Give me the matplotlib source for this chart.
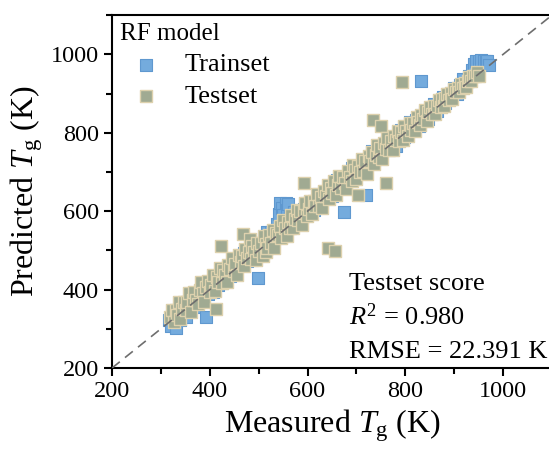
import matplotlib
matplotlib.use("Agg")
import matplotlib.pyplot as plt
from matplotlib.ticker import MultipleLocator

plt.rcParams['font.family'] = 'Liberation Serif'
plt.rcParams['mathtext.fontset'] = 'custom'
plt.rcParams['mathtext.rm'] = 'Liberation Serif'
plt.rcParams['mathtext.it'] = 'Liberation Serif:italic'

# measured vs predicted Tg (K)
train_x = [316, 320, 324, 328, 331, 335, 339, 343, 347, 352, 356, 360, 365, 369, 374,
           378, 383, 388, 393, 396, 401, 406, 411, 416, 421, 426, 431, 436, 441, 446,
           451, 456, 461, 466, 471, 476, 481, 486, 490, 494, 499, 502, 506, 510, 514,
           518, 522, 526, 530, 534, 538, 541, 544, 547, 550, 553, 556, 558, 561, 565,
           569, 573, 578, 583, 588, 593, 598, 603, 608, 613, 619, 624, 629, 634, 640,
           645, 650, 656, 661, 667, 672, 675, 678, 684, 690, 696, 702, 708, 714, 720,
           720, 726, 732, 738, 744, 750, 756, 762, 768, 774, 780, 786, 792, 798, 804,
           810, 816, 822, 828, 833, 834, 840, 846, 852, 858, 864, 870, 876, 882, 888,
           894, 900, 906, 912, 918, 924, 930, 936, 940, 945, 950, 955, 960, 964, 968,
           972]
train_y = [322, 308, 338, 322, 303, 339, 323, 353, 338, 330, 358, 346, 373, 363, 356,
           382, 373, 397, 331, 388, 407, 394, 421, 411, 435, 417, 436, 454, 434, 458,
           477, 460, 481, 474, 493, 472, 495, 476, 508, 496, 429, 514, 500, 530, 520,
           546, 532, 548, 526, 550, 568, 593, 620, 609, 590, 577, 622, 602, 619, 585,
           577, 599, 580, 601, 582, 605, 622, 600, 622, 603, 627, 644, 621, 645, 636,
           661, 638, 662, 679, 661, 682, 598, 664, 690, 710, 688, 714, 704, 730, 642,
           710, 734, 754, 732, 756, 738, 762, 780, 760, 784, 766, 790, 808, 788, 810,
           828, 808, 832, 816, 932, 838, 854, 836, 858, 874, 856, 878, 892, 876, 898,
           898, 914, 900, 922, 936, 928, 946, 960, 976, 983, 982, 985, 982, 984, 982,
           972]

test_x = [318, 322, 326, 330, 333, 337, 340, 344, 347, 351, 354, 358, 361, 365, 368,
          372, 375, 379, 382, 386, 389, 393, 396, 400, 403, 407, 410, 412, 414, 417,
          421, 422, 424, 428, 431, 435, 438, 442, 445, 449, 452, 456, 459, 463, 466,
          468, 470, 473, 477, 480, 483, 484, 487,
          490, 494, 497, 501, 504, 508, 511, 515, 516, 518, 522, 525, 529, 532, 536,
          539, 543, 546, 550, 553, 557, 560, 564, 567, 571, 574, 578, 581, 585, 588,
          592, 592, 595, 599, 602, 606, 609, 613, 616, 620, 623, 627, 630, 634, 637,
          641, 642, 644, 648, 651, 655, 656, 658, 662, 665, 669, 672, 676, 679, 683,
          686, 690, 693, 697, 700, 703, 704, 707, 711, 714, 718, 721, 725, 728, 732,
          734, 735, 739, 742, 746, 749, 750, 753, 756, 760, 760, 763, 767, 770, 774,
          777, 781, 784, 788, 791, 794, 795, 798,
          802, 805, 809, 812, 816, 819, 823, 826, 830, 833, 837, 840, 844, 847, 851,
          854, 858, 861, 865, 868, 872, 875, 879, 882, 886, 889, 893, 896, 900, 903,
          907, 910, 914, 917, 921, 924, 928, 931, 935, 938, 942, 946, 950]
test_y = [330, 347, 317, 348, 336, 368, 326, 351, 369, 347, 369, 392, 344, 374, 395,
          373, 364, 399, 420, 391, 369, 407, 422, 394, 413, 436, 397, 350, 431, 419,
          454, 511, 416, 449, 437, 419, 462, 453, 481, 447, 465, 437, 487, 471, 485,
          543, 460, 503, 481, 496, 530, 477, 510,
          495, 476, 518, 498, 518, 486, 537, 517, 495, 506, 539, 519, 553, 507, 545,
          538, 562, 531, 578, 556, 537, 572, 556, 589, 557, 581, 603, 577, 601, 564,
          672, 602, 622, 588, 606, 626, 592, 626, 614, 643, 614, 635, 609, 652, 638,
          667, 507, 631, 659, 646, 676, 499, 640, 668, 689, 659, 687, 673, 656, 702,
          688, 676, 718, 704, 681, 640, 716, 701, 733, 702, 727, 695, 741, 728, 752,
          832, 720, 744, 769, 738, 762, 818, 733, 773, 672, 758, 786, 756, 778, 757,
          791, 782, 805, 779, 801, 930, 781, 816,
          805, 793, 824, 808, 825, 804, 840, 827, 821, 846, 835, 858, 831, 853, 865,
          847, 868, 847, 869, 884, 866, 886, 868, 889, 900, 884, 902, 886, 912, 904,
          915, 904, 925, 915, 928, 916, 933, 943, 932, 944, 944, 954, 946]

fig = plt.figure(figsize=(5.49, 4.53), dpi=100)
ax = fig.add_axes([0.204, 0.1876, 0.8015, 0.779])

ax.plot([200, 1100], [200, 1100], linestyle='--', dashes=(6, 4),
        color='#6e6e6e', lw=1.2, zorder=4)
ax.scatter(train_x, train_y, marker='s', s=78, color='#74abdd',
           edgecolor='#5f98cf', linewidth=0.8, label='Trainset', zorder=2)
ax.scatter(test_x, test_y, marker='s', s=78, color='#a0aa92',
           edgecolor='#ddd1ad', linewidth=1.0, label='Testset', zorder=3)

ax.set_xlim(200, 1100)
ax.set_ylim(200, 1100)
ax.xaxis.set_major_locator(MultipleLocator(200))
ax.xaxis.set_minor_locator(MultipleLocator(100))
ax.yaxis.set_major_locator(MultipleLocator(200))
ax.yaxis.set_minor_locator(MultipleLocator(100))
ax.tick_params(which='major', direction='out', length=6, width=1.5, labelsize=17.5)
ax.tick_params(which='minor', direction='out', length=4.5, width=1.5)
for sp in ax.spines.values():
    sp.set_linewidth(1.5)

ax.set_xlabel('Measured $T_\\mathrm{g}$ (K)', fontsize=23, labelpad=4)
ax.set_ylabel('Predicted $T_\\mathrm{g}$ (K)', fontsize=23, labelpad=4)

leg = ax.legend(title='RF model', loc='upper left', frameon=False,
                fontsize=19, title_fontsize=18, handlelength=2.0,
                handletextpad=0.45, borderaxespad=0.0, labelspacing=0.3,
                alignment='left', borderpad=0.3)

ax.text(0.539, 0.221, 'Testset score', transform=ax.transAxes, fontsize=19, va='baseline')
ax.text(0.539, 0.122, '$R^2$ = 0.980', transform=ax.transAxes, fontsize=19, va='baseline')
ax.text(0.539, 0.028, 'RMSE = 22.391 K', transform=ax.transAxes, fontsize=19, va='baseline')

fig.savefig('out.png', dpi=100)
